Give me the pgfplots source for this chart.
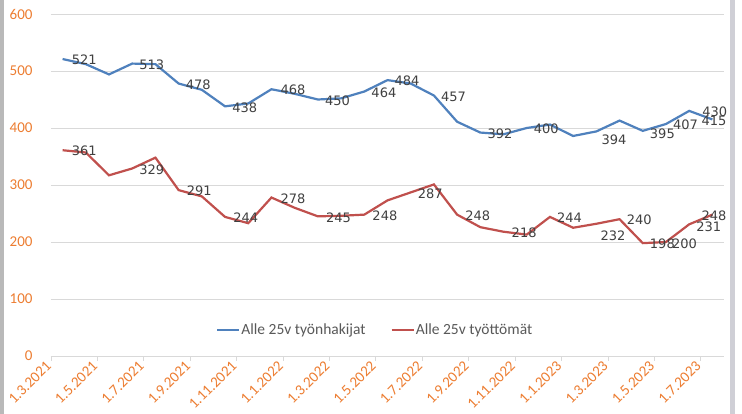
\documentclass[border=0pt]{standalone}
\usepackage{fontspec}
\setmainfont{Carlito}
\newfontfamily\labfont{DejaVu Sans}
\usepackage{pgfplots}
\usepackage{pgfplotstable}
\pgfplotsset{compat=1.18}

\definecolor{serblue}{HTML}{4F81BD}
\definecolor{serred}{HTML}{C0504D}
\definecolor{tickorange}{HTML}{ED7D31}
\definecolor{labgray}{HTML}{404040}
\definecolor{leggray}{HTML}{595959}
\definecolor{gridgray}{HTML}{D9D9D9}

% months from 1.3.2021, values mid-month
\pgfplotstableread{
x y
0.5 521
1.5 512
2.5 494
3.5 513
4.5 512
5.5 478
6.5 467
7.5 438
8.5 443
9.5 468
10.5 460
11.5 450
12.5 452
13.5 464
14.5 484
15.5 478
16.5 457
17.5 411
18.5 392
19.5 389
20.5 400
21.5 406
22.5 386
23.5 394
24.5 413
25.5 395
26.5 407
27.5 430
28.5 415
}\hakijat

\pgfplotstableread{
x y
0.5 361
1.5 357
2.5 317
3.5 329
4.5 348
5.5 291
6.5 280
7.5 244
8.5 233
9.5 278
10.5 260
11.5 245
12.5 246
13.5 248
14.5 273
15.5 287
16.5 301
17.5 248
18.5 226
19.5 218
20.5 213
21.5 244
22.5 225
23.5 232
24.5 240
25.5 198
26.5 200
27.5 231
28.5 248
}\tyottomat

\pgfplotsset{
  datalabels/.style={draw=none, mark=none, forget plot,
    visualization depends on={\thisrow{dx} \as \mydx},
    visualization depends on={\thisrow{dy} \as \mydy},
    point meta=y, nodes near coords,
    every node near coord/.append style={anchor=west, xshift=\mydx pt, yshift=\mydy pt,
      inner sep=0pt, text=labgray, font=\labfont\fontsize{13}{14}\selectfont}},
}

\begin{document}
\begin{tikzpicture}
\useasboundingbox (0pt,0pt) rectangle (742pt,414pt);
\fill[white] (0pt,0pt) rectangle (742pt,414pt);
\fill[gray!55] (0pt,0pt) rectangle (4pt,414pt);
\fill[blue!8!gray!35] (730pt,0pt) rectangle (735pt,414pt);
\begin{axis}[at={(51pt,58pt)}, anchor=south west, scale only axis,
  width=673pt, height=342pt,
  xmin=0, xmax=29, ymin=0, ymax=600,
  ytick={0,100,...,600}, xtick={0,2,...,28},
  xticklabels={1.3.2021,1.5.2021,1.7.2021,1.9.2021,1.11.2021,1.1.2022,1.3.2022,1.5.2022,1.7.2022,1.9.2022,1.11.2022,1.1.2023,1.3.2023,1.5.2023,1.7.2023},
  axis x line*=bottom, axis y line*=left,
  x axis line style={draw=gridgray, line width=0.8pt, -},
  y axis line style={draw=none},
  ymajorgrids, grid style={draw=gridgray, line width=0.8pt},
  tick align=outside, major tick length=5pt,
  xtick style={draw=gridgray, line width=0.8pt},
  ytick style={draw=none},
  /pgf/number format/assume math mode=true,
  yticklabel style={text=tickorange, font=\fontsize{15}{15}\selectfont, xshift=-10pt},
  xticklabel style={text=tickorange, font=\fontsize{15}{15}\selectfont, rotate=45, anchor=east},
  legend style={at={(0.481,0.076)}, anchor=center, draw=none, fill=none,
    font=\fontsize{15.5}{16}\selectfont, text=leggray, legend columns=2,
    /tikz/every even column/.append style={column sep=24pt},
    nodes={inner sep=1pt}},
  legend image code/.code={\draw[#1, line width=2.2pt] (0,0) -- (22pt,0);},
  clip=false]
\addplot[serblue, line width=2.2pt] table[x=x,y=y] {\hakijat};
\addlegendentry{Alle 25v työnhakijat}
\addplot[serred, line width=2.2pt] table[x=x,y=y] {\tyottomat};
\addlegendentry{Alle 25v työttömät}
% data labels (label shifts in pt)
\addplot[datalabels] table {
x y dx dy
0.5 521 9 -1
3.5 513 7 -1
5.5 478 7 -1
7.5 438 7 -1
9.5 468 9 -1
11.5 450 7 -1
13.5 464 7 -1
14.5 484 7 -1
16.5 457 7 -1
18.5 392 7 -1
20.5 400 7 -1
23.5 394 5 -8
25.5 395 7 -3
26.5 407 7 -1
27.5 430 13 -1
28.5 415 -11 -1
};
\addplot[datalabels] table {
x y dx dy
0.5 361 9 -1
3.5 329 7 -1
5.5 291 8 -1
7.5 244 8 -1
9.5 278 9 -1
11.5 245 8 -1
13.5 248 8 -1
15.5 287 7 -1
17.5 248 8 -1
19.5 218 8 -1
21.5 244 7 -1
23.5 232 4 -12
24.5 240 7 -1
25.5 198 7 -1
26.5 200 6 -2
27.5 231 7 -2
28.5 248 -11 -1
};
\end{axis}
\end{tikzpicture}
\end{document}
